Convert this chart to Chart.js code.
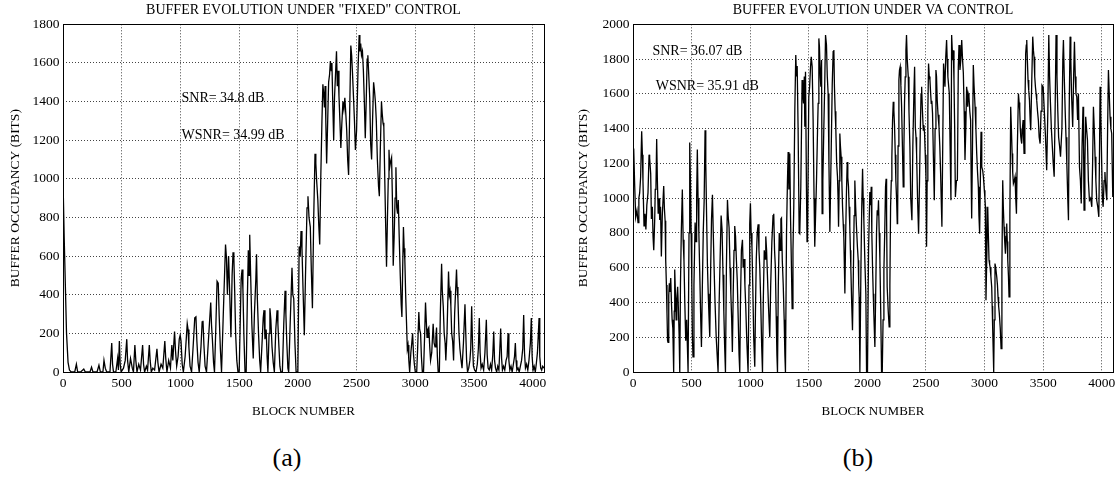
<!DOCTYPE html>
<html><head><meta charset="utf-8">
<script src="https://cdn.jsdelivr.net/npm/chart.js@4.4.1/dist/chart.umd.min.js"></script>
<style>
html,body{margin:0;padding:0;background:#fff;}
body{width:1120px;height:477px;position:relative;overflow:hidden;}
canvas{position:absolute;top:0;}
#ca{left:0px}
#cb{left:568px}
.lab{position:absolute;top:443px;width:60px;margin-left:-30px;text-align:center;font-family:"Liberation Serif",serif;font-size:26px;line-height:30px;color:#000;}
</style></head><body>
<canvas id="ca" width="552" height="432"></canvas>
<canvas id="cb" width="552" height="432"></canvas>
<div class="lab" style="left:287px">(a)</div>
<div class="lab" style="left:858px">(b)</div>
<script>
const FONT = '"Liberation Serif", "Times New Roman", serif';

// ---- Chart (a): buffer evolution under "fixed" control ----
const titleA = 'BUFFER EVOLUTION UNDER "FIXED" CONTROL';
const blocksA = [
0,10,30,43,55,70,100,114,125,150,
177,190,230,243,255,290,306,318,340,349,
360,372,400,415,422,430,450,465,472,480,
487,495,515,530,543,550,560,575,590,600,
612,620,630,645,660,678,686,695,710,720,
735,742,752,765,780,800,808,818,835,850,
867,875,885,900,915,927,935,950,958,968,
980,990,998,1005,1015,1025,1040,1058,1065,1072,
1082,1095,1110,1122,1132,1140,1150,1160,1175,1185,
1192,1200,1210,1222,1240,1258,1265,1272,1282,1290,
1300,1312,1322,1330,1340,1350,1365,1384,1392,1400,
1410,1420,1430,1440,1448,1455,1462,1470,1480,1490,
1500,1510,1517,1525,1532,1540,1550,1560,1570,1578,
1585,1590,1598,1608,1620,1630,1642,1648,1655,1665,
1675,1683,1695,1705,1712,1720,1730,1738,1745,1755,
1762,1770,1780,1790,1800,1812,1823,1830,1838,1847,
1855,1868,1880,1891,1898,1906,1915,1922,1935,1950,
1957,1965,1975,1985,2000,2011,2020,2027,2035,2043,
2055,2065,2078,2086,2095,2106,2115,2124,2135,2146,
2153,2160,2170,2178,2186,2195,2205,2213,2220,2226,
2232,2238,2245,2252,2262,2270,2277,2284,2290,2297,
2305,2312,2322,2329,2336,2343,2350,2358,2366,2374,
2384,2392,2400,2408,2416,2424,2432,2440,2451,2458,
2465,2474,2482,2490,2500,2512,2522,2528,2535,2542,
2550,2558,2566,2574,2582,2590,2596,2602,2612,2620,
2628,2636,2645,2652,2660,2668,2677,2687,2694,2702,
2712,2718,2725,2732,2740,2748,2755,2763,2770,2776,
2782,2790,2798,2805,2812,2820,2828,2835,2842,2849,
2855,2863,2872,2880,2886,2893,2899,2905,2911,2918,
2925,2932,2938,2945,2952,2962,2970,2977,2985,2992,
3000,3012,3020,3030,3037,3045,3052,3060,3070,3080,
3087,3094,3100,3108,3115,3123,3130,3140,3152,3160,
3168,3175,3181,3188,3195,3205,3213,3224,3230,3238,
3246,3254,3260,3270,3283,3290,3296,3303,3310,3318,
3326,3335,3351,3356,3363,3372,3380,3390,3398,3410,
3423,3430,3437,3445,3455,3465,3472,3480,3487,3495,
3505,3517,3528,3537,3545,3552,3560,3570,3582,3593,
3605,3612,3620,3630,3640,3650,3660,3668,3675,3683,
3693,3702,3712,3720,3727,3735,3742,3752,3762,3773,
3782,3790,3797,3805,3815,3825,3835,3845,3852,3858,
3865,3875,3885,3895,3905,3915,3923,3930,3938,3948,
3958,3968,3980,3988,3995,4003,4012,4022,4030,4040,
4048,4054,4060,4068,4076,4085,4096];
const bitsA = [
1000,700,200,50,10,0,0,40,0,0,
15,0,0,25,0,0,35,0,0,60,
20,0,0,150,40,0,0,70,10,160,
40,0,20,60,170,60,0,70,20,0,
140,60,0,40,10,140,40,0,30,10,
140,60,0,20,10,120,50,0,40,20,
160,70,0,60,20,140,60,210,110,30,
80,170,190,160,40,0,80,250,220,130,
30,0,150,280,285,160,50,0,130,260,
265,140,30,0,180,360,240,170,50,0,
200,470,460,290,120,0,300,660,590,400,
600,400,180,500,620,590,420,200,60,0,
0,280,480,530,430,200,0,0,380,630,
500,710,500,250,70,300,480,610,380,200,
60,0,150,280,320,170,220,80,0,200,
330,270,130,50,0,220,320,250,140,30,
0,0,250,420,300,150,20,0,260,540,
400,380,150,0,0,650,600,730,640,450,
190,500,850,910,800,750,520,330,800,1130,
1080,990,890,760,660,1000,1300,1490,1440,1370,
1480,1300,1080,1250,1500,1540,1610,1560,1600,1400,
1200,1420,1560,1660,1480,1560,1430,1300,1160,1280,
1400,1360,1420,1340,1250,1100,1020,1300,1690,1640,
1550,1420,1300,1150,1250,1560,1745,1660,1700,1640,
1660,1560,1400,1210,1400,1620,1640,1560,1420,1180,
1100,1300,1500,1460,1400,1300,1100,960,910,1150,
1400,1340,1290,1270,1000,750,545,800,1000,1150,
1060,1090,1110,900,550,700,900,1060,850,820,
890,700,500,350,285,550,750,640,580,400,
260,120,140,60,0,100,150,200,90,40,
0,0,120,310,220,200,80,0,0,200,
360,260,180,220,230,130,60,100,250,150,
130,180,230,80,0,0,300,560,420,340,
200,150,60,200,520,400,420,340,200,160,
60,300,530,440,380,200,120,60,20,150,
350,200,60,0,20,60,120,340,150,30,
10,0,40,120,280,100,20,40,10,100,
270,90,20,10,40,10,90,210,60,20,
0,30,10,120,225,70,10,30,10,60,
80,200,60,10,30,0,40,80,150,60,
10,20,0,30,60,120,295,100,20,40,
10,60,150,280,80,10,30,0,40,100,
200,280,80,20,10,30,20];
const notesA = ['SNR= 34.8 dB', 'WSNR= 34.99 dB'];
const noteBlocksA = [1009, 1009];
const noteBitsA = [1418, 1226];

// ---- Chart (b): buffer evolution under VA control ----
const titleB = 'BUFFER EVOLUTION UNDER VA CONTROL';
const blocksB = [
0,6,14,23,34,43,50,57,65,74,
80,85,94,102,110,118,128,137,142,151,
157,165,171,177,185,190,196,202,208,215,
222,228,235,242,250,262,268,274,279,285,
290,295,299,305,310,315,322,328,334,340,
347,352,356,362,368,374,381,388,394,399,
405,412,421,428,435,442,450,458,470,478,
484,490,496,502,507,512,520,530,538,543,
549,555,562,570,578,584,592,600,607,615,
621,628,635,642,648,655,663,670,678,685,
692,700,710,718,726,735,745,752,760,768,
775,782,789,797,806,812,820,828,835,842,
848,855,862,868,875,882,890,898,905,911,
917,925,934,940,948,955,962,970,977,982,
990,996,1002,1008,1015,1022,1030,1039,1045,1052,
1060,1068,1075,1082,1090,1098,1105,1112,1120,1127,
1133,1140,1147,1155,1162,1167,1175,1185,1195,1201,
1208,1215,1222,1228,1233,1240,1248,1255,1262,1267,
1274,1282,1290,1296,1301,1310,1318,1324,1330,1338,
1344,1350,1358,1365,1372,1381,1389,1395,1401,1409,
1418,1423,1432,1443,1449,1455,1462,1466,1472,1480,
1485,1489,1500,1507,1515,1521,1529,1537,1545,1551,
1558,1566,1575,1580,1586,1591,1598,1603,1609,1614,
1620,1628,1636,1643,1651,1658,1665,1672,1680,1687,
1694,1700,1708,1714,1719,1725,1731,1738,1745,1750,
1754,1760,1765,1770,1776,1782,1788,1794,1799,1804,
1808,1815,1822,1828,1833,1839,1844,1850,1855,1859,
1866,1873,1880,1887,1893,1900,1907,1915,1922,1926,
1930,1936,1945,1952,1959,1964,1970,1978,1987,1993,
2001,2010,2021,2027,2033,2038,2044,2050,2055,2064,
2072,2078,2084,2090,2095,2101,2107,2115,2121,2127,
2134,2141,2148,2155,2160,2164,2169,2178,2186,2192,
2198,2204,2209,2215,2221,2226,2232,2238,2243,2250,
2255,2258,2262,2269,2274,2280,2286,2292,2299,2306,
2312,2317,2323,2329,2334,2340,2349,2355,2363,2370,
2380,2388,2397,2403,2409,2415,2420,2428,2437,2445,
2452,2458,2463,2470,2477,2482,2488,2494,2500,2505,
2510,2516,2522,2528,2534,2540,2545,2550,2556,2563,
2571,2578,2585,2590,2596,2603,2611,2618,2625,2630,
2636,2643,2650,2656,2662,2668,2676,2681,2687,2693,
2699,2706,2713,2719,2728,2733,2739,2745,2751,2760,
2768,2776,2782,2790,2798,2805,2812,2819,2826,2833,
2840,2847,2852,2856,2861,2867,2874,2881,2886,2890,
2897,2904,2910,2919,2926,2933,2940,2947,2952,2958,
2964,2970,2974,2978,2984,2990,2998,3003,3007,3012,
3020,3027,3032,3038,3043,3047,3054,3061,3065,3069,
3074,3078,3083,3089,3095,3104,3110,3115,3120,3126,
3134,3141,3148,3155,3160,3166,3172,3178,3184,3189,
3194,3198,3204,3209,3216,3223,3229,3235,3240,3246,
3253,3260,3266,3272,3280,3289,3295,3300,3305,3309,
3313,3317,3323,3329,3333,3337,3344,3351,3356,3360,
3365,3371,3377,3383,3389,3394,3402,3411,3417,3422,
3428,3434,3440,3445,3452,3459,3466,3474,3482,3490,
3500,3510,3520,3530,3540,3548,3555,3562,3570,3578,
3586,3594,3602,3610,3618,3625,3632,3640,3648,3660,
3668,3673,3680,3688,3695,3702,3710,3716,3722,3730,
3736,3742,3752,3760,3767,3774,3780,3787,3794,3801,
3810,3818,3825,3832,3840,3845,3849,3856,3863,3870,
3878,3886,3895,3905,3915,3922,3929,3936,3943,3950,
3957,3966,3975,3980,3986,3991,3997,4005,4012,4020,
4027,4035,4043,4050,4057,4064,4071,4078,4085,4094];
const bitsB = [
1100,1285,1080,890,930,860,1000,1030,1120,1385,
1250,1100,840,910,820,960,1030,1250,1230,1140,
880,950,780,700,870,1050,1070,1340,1100,910,
1000,875,950,665,900,1070,940,870,645,500,
340,180,170,440,510,460,540,400,300,250,
0,350,590,450,300,420,490,350,200,0,
500,800,1050,760,640,400,180,300,0,800,
1320,1100,800,500,200,87,500,860,750,1000,
1280,1000,800,560,300,144,500,820,980,1390,
1200,900,620,450,330,202,600,880,1020,800,
600,400,200,100,0,400,700,900,820,560,
350,150,0,600,990,900,830,600,450,300,
115,450,700,840,780,650,520,300,100,0,
400,700,760,600,650,500,380,200,80,0,
500,850,970,800,720,500,200,30,350,650,
800,850,700,600,400,150,0,420,700,650,
780,700,560,400,280,200,500,750,900,910,
700,600,320,100,0,500,800,700,880,885,
640,500,300,100,0,800,1100,1265,1050,1257,
900,680,365,700,950,1516,1823,1700,1760,1390,
800,796,1065,1679,1600,1545,1700,1411,1727,1065,
750,758,1583,1640,1756,1813,1756,1449,1000,720,
900,1103,1400,1545,1919,1870,1700,1641,1794,911,
1100,1391,1650,1938,1880,1700,1602,1200,806,1100,
1391,1650,1842,1852,1641,1500,1391,1200,1123,1000,
835,1100,1372,1300,1238,1100,950,850,777,600,
451,800,1050,1208,1120,1065,950,835,700,595,
400,240,550,900,1102,950,835,720,643,500,
432,0,600,950,1169,1000,873,650,451,0,
0,700,1035,960,1065,800,604,450,336,144,
500,800,931,900,988,800,643,300,0,0,
300,585,800,1065,1112,900,489,350,259,500,
950,1100,1238,1450,1554,1506,1411,1250,1103,980,
854,875,1300,1679,1737,1756,1650,1526,1300,1065,
1300,1550,1698,1850,1938,1800,1698,1500,1295,1000,
873,1300,1602,1756,1411,1350,1257,1000,796,1100,
1400,1600,1641,1500,1391,1420,1372,1250,1123,720,
1100,1500,1775,1700,1679,1600,1545,1560,1487,1250,
988,1400,1737,1700,1564,1480,1411,1300,1142,1000,
835,1300,1775,1700,1641,1800,1910,1800,1698,1650,
1602,1300,988,1938,1794,1850,1679,1400,1007,1100,
1103,1756,1881,1737,1800,1910,1800,1718,1500,1219,
1400,1641,1600,1526,1600,1583,1500,1449,1100,883,
1300,1766,1650,1526,1400,1257,1150,1065,900,796,
1100,1382,1250,1180,1160,1123,1046,1000,950,413,
700,950,800,643,620,604,550,489,380,259,
120,0,300,624,600,547,500,432,380,336,
250,134,600,1103,950,835,750,681,780,854,
750,643,550,432,900,1526,1400,1257,1150,1084,
1100,1123,1000,911,1300,1602,1550,1506,1400,1353,
1330,1314,1400,1449,1350,1257,1500,1833,1880,1910,
1800,1679,1620,1564,1450,1391,1650,1929,1850,1813,
1700,1641,1600,1564,1500,1449,1350,1314,1500,1650,
1640,1500,1350,1161,1500,1938,1700,1550,1400,1300,
1200,1123,1500,1938,1700,1500,1350,1300,1238,1400,
1800,1910,1700,1500,1350,1200,1000,873,1500,1929,
1800,1600,1410,1700,1900,1700,1600,1583,1450,1602,
1180,1100,969,1300,1526,1300,931,1200,1468,1400,
1334,1100,988,1000,950,1200,1526,1400,1238,1100,
988,950,892,1200,1641,1500,1295,1000,950,1100,
1150,1050,988,1400,1737,1600,1468,1400,1372,1007];
const notesB = ['SNR= 36.07 dB', 'WSNR= 35.91 dB'];
const noteBlocksB = [166, 194];
const noteBitsB = [1842, 1641];

// ---- tick labels ----
const xTicks = [0, 500, 1000, 1500, 2000, 2500, 3000, 3500, 4000];
const yTicksA = [0, 200, 400, 600, 800, 1000, 1200, 1400, 1600, 1800];
const yTicksB = [0, 200, 400, 600, 800, 1000, 1200, 1400, 1600, 1800, 2000];
const xMax = 4096;

const framePlugin = {
  id: 'frame',
  afterDatasetsDraw(chart) {
    const {ctx, chartArea: a} = chart;
    ctx.save();
    ctx.strokeStyle = '#000';
    ctx.lineWidth = 1;
    ctx.strokeRect(Math.round(a.left) + 0.5, Math.round(a.top) + 0.5,
                   Math.round(a.right - a.left), Math.round(a.bottom - a.top));
    ctx.restore();
  }
};

const notesPlugin = {
  id: 'notes',
  afterDraw(chart, args, opts) {
    const {ctx} = chart;
    const xs = chart.scales.x, ys = chart.scales.y;
    ctx.save();
    ctx.fillStyle = '#000';
    ctx.font = '14px ' + FONT;
    ctx.textAlign = 'left';
    ctx.textBaseline = 'middle';
    (opts.texts || []).forEach((t, i) => {
      ctx.fillText(t, xs.getPixelForValue(opts.xs[i]), ys.getPixelForValue(opts.ys[i]));
    });
    ctx.restore();
  }
};

function makeChart(id, c) {
  return new Chart(document.getElementById(id), {
    type: 'line',
    data: {
      datasets: [{
        data: c.blocks.map((b, i) => ({x: b, y: c.bits[i]})),
        borderColor: '#000',
        borderWidth: 1.3,
        pointRadius: 0,
        tension: 0,
        fill: false
      }]
    },
    options: {
      responsive: false,
      animation: false,
      devicePixelRatio: 1,
      events: [],
      layout: {padding: {left: 0, right: c.padRight, top: 0, bottom: 0}},
      plugins: {
        legend: {display: false},
        tooltip: {enabled: false},
        title: {
          display: true, text: c.title, fullSize: false, color: '#000',
          font: {family: FONT, size: 14, weight: 'normal'},
          padding: {top: 2, bottom: 5.5}
        },
        notes: {texts: c.notes, xs: c.noteX, ys: c.noteY}
      },
      scales: {
        x: {
          type: 'linear', min: 0, max: xMax,
          afterFit: s => { s.height = 60; },
          afterBuildTicks: s => { s.ticks = xTicks.map(v => ({value: v})); },
          ticks: {autoSkip: false, maxRotation: 0, color: '#000',
                  font: {family: FONT, size: 13.5}, padding: 3,
                  callback: v => String(v)},
          grid: {color: '#444', lineWidth: 1, drawTicks: false},
          border: {display: false, dash: [1, 2]},
          title: {display: true, text: 'BLOCK NUMBER', color: '#000',
                  font: {family: FONT, size: 13}, padding: {top: 0, bottom: 12.7}}
        },
        y: {
          type: 'linear', min: 0, max: c.ymax,
          afterFit: s => { s.width = c.yWidth; },
          afterBuildTicks: s => { s.ticks = c.yTicks.map(v => ({value: v})); },
          ticks: {autoSkip: false, color: '#000',
                  font: {family: FONT, size: 13.5}, padding: 3.5,
                  callback: v => String(v)},
          grid: {color: '#444', lineWidth: 1, drawTicks: false},
          border: {display: false, dash: [1, 2]},
          title: {display: true, text: 'BUFFER OCCUPANCY (BITS)', color: '#000',
                  font: {family: FONT, size: 13.5}, padding: {top: 6.9, bottom: 0}}
        }
      }
    },
    plugins: [framePlugin, notesPlugin]
  });
}

makeChart('ca', {blocks: blocksA, bits: bitsA, title: titleA, ymax: 1800, yTicks: yTicksA,
  yWidth: 63, padRight: 8, notes: notesA, noteX: noteBlocksA, noteY: noteBitsA});
makeChart('cb', {blocks: blocksB, bits: bitsB, title: titleB, ymax: 2000, yTicks: yTicksB,
  yWidth: 65, padRight: 7, notes: notesB, noteX: noteBlocksB, noteY: noteBitsB});
</script>
</body></html>
